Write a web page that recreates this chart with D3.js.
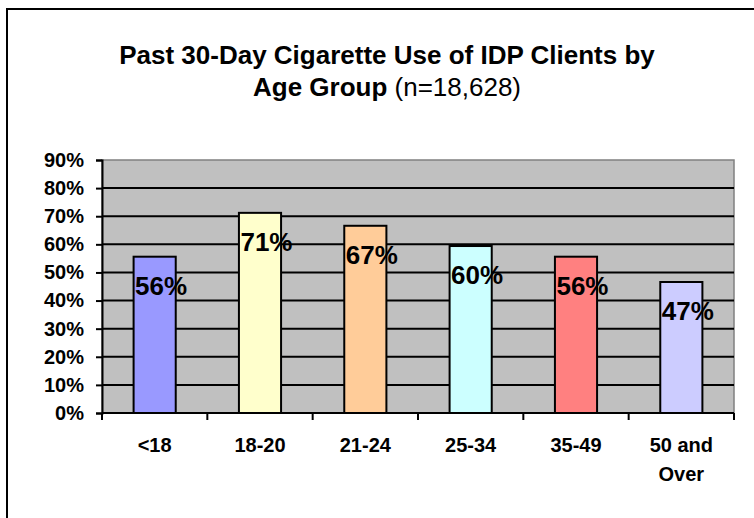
<!DOCTYPE html>
<html>
<head>
<meta charset="utf-8">
<script src="https://cdnjs.cloudflare.com/ajax/libs/d3/7.8.5/d3.min.js"></script>
<style>
  html, body { margin: 0; padding: 0; background: #fff; }
  svg { display: block; font-family: "Liberation Sans", Arial, sans-serif; }
</style>
</head>
<body>
<script>
(function(window){
    'use strict'

    // chart data
    var categories = ['<18', '18-20', '21-24', '25-34', '35-49', '50 and Over'];
    var values = [55.6, 71.2, 66.6, 59.4, 55.6, 46.6];
    var labels = ['56%', '71%', '67%', '60%', '56%', '47%'];
    var colors = ['#9999FF', '#FFFFCC', '#FFCC99', '#CCFFFF', '#FF8080', '#CCCCFF'];
    var yTicks = [0, 10, 20, 30, 40, 50, 60, 70, 80, 90];

    var W = 754, H = 518;
    var plot = {left: 102, right: 734, top: 160, bottom: 413};

    var svg = d3.select('body').append('svg')
        .attr('width', W)
        .attr('height', H);

    // outer frame (only the left and top edges are in view)
    svg.append('rect')
        .attr('x', 7).attr('y', 9)
        .attr('width', W + 20).attr('height', H + 20)
        .attr('fill', '#fff')
        .attr('stroke', '#000')
        .attr('stroke-width', 2);

    // title
    var title = svg.append('text')
        .attr('text-anchor', 'middle')
        .attr('font-size', 26)
        .attr('fill', '#000');
    title.append('tspan')
        .attr('x', 387).attr('y', 64)
        .attr('font-weight', 'bold')
        .text('Past 30-Day Cigarette Use of IDP Clients by');
    var t2 = title.append('tspan').attr('x', 387).attr('y', 96);
    t2.append('tspan').attr('font-weight', 'bold').text('Age Group ');
    t2.append('tspan').text('(n=18,628)');

    var x = d3.scaleBand()
        .domain(categories)
        .range([plot.left, plot.right])
        .padding(0);

    var y = d3.scaleLinear()
        .domain([0, 90])
        .range([plot.bottom, plot.top]);

    // plot background
    svg.append('rect')
        .attr('x', plot.left).attr('y', plot.top)
        .attr('width', plot.right - plot.left)
        .attr('height', plot.bottom - plot.top)
        .attr('fill', '#C0C0C0')
        .attr('stroke', '#808080')
        .attr('stroke-width', 1.5);

    // gridlines
    svg.append('g').selectAll('line')
        .data(yTicks.filter(function(d){ return d > 0 && d < 90; }))
        .enter().append('line')
        .attr('x1', plot.left).attr('x2', plot.right)
        .attr('y1', function(d){ return y(d); })
        .attr('y2', function(d){ return y(d); })
        .attr('stroke', '#000')
        .attr('stroke-width', 2);

    // bars
    var barW = x.bandwidth() * 0.4;
    svg.append('g').selectAll('rect')
        .data(values)
        .enter().append('rect')
        .attr('x', function(d, i){ return x(categories[i]) + x.bandwidth() / 2 - barW / 2; })
        .attr('y', function(d){ return y(d); })
        .attr('width', barW)
        .attr('height', function(d){ return y(0) - y(d); })
        .attr('fill', function(d, i){ return colors[i]; })
        .attr('stroke', '#000')
        .attr('stroke-width', 2);

    // y axis
    var yAxis = svg.append('g')
        .attr('transform', 'translate(' + plot.left + ',0)')
        .call(d3.axisLeft(y).tickValues(yTicks).tickSize(6).tickPadding(12)
            .tickFormat(function(d){ return d + '%'; }));
    yAxis.select('.domain').attr('stroke', '#000').attr('stroke-width', 2);
    yAxis.selectAll('.tick line').attr('stroke', '#000').attr('stroke-width', 2);
    yAxis.selectAll('.tick text')
        .attr('font-family', '"Liberation Sans", Arial, sans-serif')
        .attr('font-size', 20)
        .attr('font-weight', 'bold')
        .attr('fill', '#000');

    // x axis: ticks sit on the category boundaries
    var xAxis = svg.append('g')
        .attr('transform', 'translate(0,' + plot.bottom + ')');
    xAxis.append('line')
        .attr('x1', plot.left).attr('x2', plot.right)
        .attr('stroke', '#000').attr('stroke-width', 2);
    xAxis.selectAll('line.tk')
        .data(categories.concat(['end']))
        .enter().append('line')
        .attr('class', 'tk')
        .attr('x1', function(d, i){ return plot.left + i * x.step(); })
        .attr('x2', function(d, i){ return plot.left + i * x.step(); })
        .attr('y1', 0).attr('y2', 7)
        .attr('stroke', '#000').attr('stroke-width', 2);

    var xl = xAxis.selectAll('text')
        .data(categories)
        .enter().append('text')
        .attr('text-anchor', 'middle')
        .attr('font-size', 20)
        .attr('font-weight', 'bold')
        .attr('fill', '#000');
    xl.each(function(d){
        var el = d3.select(this), cx = x(d) + x.bandwidth() / 2;
        var parts = d === '50 and Over' ? ['50 and', 'Over'] : [d];
        parts.forEach(function(p, j){
            el.append('tspan').attr('x', cx).attr('y', 39 + j * 29).text(p);
        });
    });

    // value labels
    svg.append('g').selectAll('text')
        .data(values)
        .enter().append('text')
        .attr('x', function(d, i){ return x(categories[i]) + x.bandwidth() / 2 - barW / 2 + 1.5; })
        .attr('y', function(d){ return y(d) + 38; })
        .attr('font-size', 26)
        .attr('font-weight', 'bold')
        .attr('fill', '#000')
        .text(function(d, i){ return labels[i]; });

})(window);
</script>
</body>
</html>
